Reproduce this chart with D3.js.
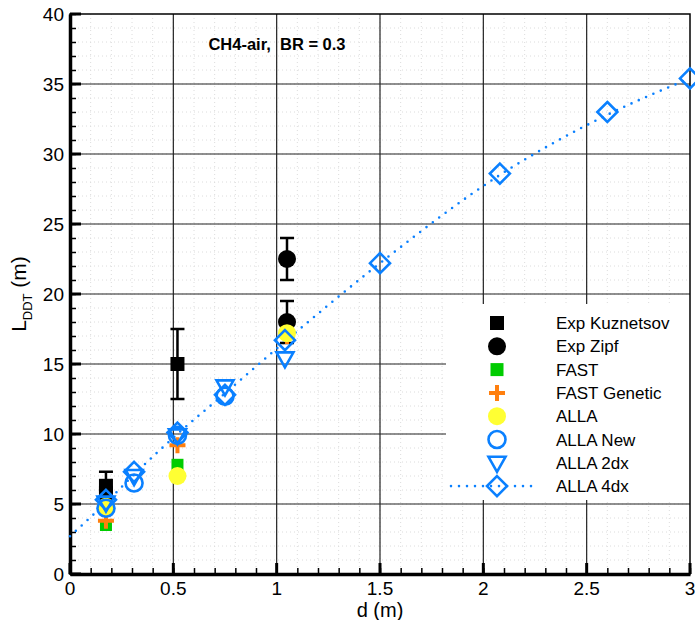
<!DOCTYPE html>
<html>
<head>
<meta charset="utf-8">
<script src="https://cdn.jsdelivr.net/npm/d3@7/dist/d3.min.js"></script>
<style>
  body { margin: 0; background: #fff; }
  svg text { font-family: "Liberation Sans", Arial, sans-serif; }
</style>
</head>
<body>
<div id="chart"></div>
<script>
// data
var xTicks = [0, 0.5, 1, 1.5, 2, 2.5, 3]
var yTicks = [0, 5, 10, 15, 20, 25, 30, 35, 40]

var expKuznetsov = [
  {d: 0.174, L: 6.3, lo: 5.3, hi: 7.3},
  {d: 0.174, L: 5.8},
  {d: 0.52, L: 15.0, lo: 12.5, hi: 17.5}
]
var expZipf = [
  {d: 1.05, L: 22.5, lo: 21.0, hi: 24.0},
  {d: 1.05, L: 18.0, lo: 16.5, hi: 19.5}
]
var fast = [ {d: 0.174, L: 3.5}, {d: 0.52, L: 7.8} ]
var fastGenetic = [ {d: 0.174, L: 3.8}, {d: 0.52, L: 9.2}, {d: 1.05, L: 17.0} ]
var alla = [ {d: 0.174, L: 4.8}, {d: 0.52, L: 7.0}, {d: 1.05, L: 17.2} ]
var allaNew = [ {d: 0.174, L: 4.7}, {d: 0.31, L: 6.5}, {d: 0.52, L: 9.9}, {d: 0.75, L: 12.7} ]
var alla2dx = [ {d: 0.174, L: 5.1}, {d: 0.31, L: 7.0}, {d: 0.52, L: 9.9}, {d: 0.75, L: 13.4}, {d: 1.04, L: 15.4} ]
var alla4dx = [ {d: 0.174, L: 5.3}, {d: 0.31, L: 7.3}, {d: 0.52, L: 10.1}, {d: 0.75, L: 12.8},
  {d: 1.04, L: 16.7}, {d: 1.5, L: 22.2}, {d: 2.08, L: 28.6}, {d: 2.6, L: 33.0}, {d: 3.0, L: 35.4} ]
// dotted curve drawn with the 4dx series (starts at the axis)
var alla4dxLine = [ {d: 0, L: 2.7}, {d: 0.174, L: 5.1}, {d: 0.31, L: 7.1}, {d: 0.52, L: 10.0},
  {d: 0.75, L: 12.9}, {d: 1.04, L: 16.6}, {d: 1.5, L: 22.2}, {d: 2.08, L: 28.5}, {d: 2.6, L: 32.8}, {d: 3.0, L: 35.4} ]

var legendNames = ["Exp Kuznetsov", "Exp Zipf", "FAST", "FAST Genetic", "ALLA", "ALLA New", "ALLA 2dx", "ALLA 4dx"]

var W = 695, H = 620
var pLeft = 70, pRight = 690, pTop = 14, pBottom = 574
var blue = "#0a80ff"

var svg = d3.select("#chart").append("svg").attr("width", W).attr("height", H)

var x = d3.scaleLinear().domain([0, 3]).range([pLeft, pRight])
var y = d3.scaleLinear().domain([0, 40]).range([pBottom, pTop])

// minor grid (dotted)
var grid = svg.append("g")
d3.range(1, 30).forEach(function(i){
  var v = i / 10
  grid.append("line").attr("x1", x(v)).attr("x2", x(v)).attr("y1", pTop).attr("y2", pBottom)
    .attr("stroke", "#dcdcdc").attr("stroke-dasharray", "1,3")
})
d3.range(1, 40).forEach(function(v){
  grid.append("line").attr("x1", pLeft).attr("x2", pRight).attr("y1", y(v)).attr("y2", y(v))
    .attr("stroke", "#dcdcdc").attr("stroke-dasharray", "1,3")
})
// major grid
xTicks.slice(1, -1).forEach(function(v){
  grid.append("line").attr("x1", x(v)).attr("x2", x(v)).attr("y1", pTop).attr("y2", pBottom)
    .attr("stroke", "#222").attr("stroke-width", 1.2)
})
yTicks.slice(1, -1).forEach(function(v){
  grid.append("line").attr("x1", pLeft).attr("x2", pRight).attr("y1", y(v)).attr("y2", y(v))
    .attr("stroke", "#222").attr("stroke-width", 1.2)
})

// legend background hides grid
svg.append("rect").attr("x", 446).attr("y", 304).attr("width", 244).attr("height", 196).attr("fill", "#fff")

// frame
svg.append("rect").attr("x", pLeft).attr("y", pTop).attr("width", pRight - pLeft).attr("height", pBottom - pTop)
  .attr("fill", "none").attr("stroke", "#000").attr("stroke-width", 1.5)

// axes with inward minor ticks
var xAxis = d3.axisBottom(x).tickValues(d3.range(0, 31).map(function(i){ return i / 10 }))
  .tickSizeInner(-6).tickSizeOuter(0).tickFormat("")
var yAxis = d3.axisLeft(y).tickValues(d3.range(0, 41)).tickSizeInner(-6).tickSizeOuter(0).tickFormat("")
var gx = svg.append("g").attr("transform", "translate(0," + pBottom + ")").call(xAxis)
var gy = svg.append("g").attr("transform", "translate(" + pLeft + ",0)").call(yAxis)
gx.selectAll(".tick line").attr("stroke-width", 1.5)
gy.selectAll(".tick line").attr("stroke-width", 1.5)
gx.select(".domain").attr("stroke-width", 3.5)
gy.select(".domain").attr("stroke-width", 3.5)
// major ticks and labels
xTicks.forEach(function(v){
  svg.append("line").attr("x1", x(v)).attr("x2", x(v)).attr("y1", pBottom).attr("y2", pBottom - 11)
    .attr("stroke", "#000").attr("stroke-width", 3)
  svg.append("text").attr("x", x(v)).attr("y", pBottom + 21).attr("text-anchor", "middle")
    .attr("font-size", 19).text(v)
})
yTicks.forEach(function(v){
  svg.append("line").attr("x1", pLeft).attr("x2", pLeft + 11).attr("y1", y(v)).attr("y2", y(v))
    .attr("stroke", "#000").attr("stroke-width", 3)
  svg.append("text").attr("x", pLeft - 6).attr("y", y(v) + 7).attr("text-anchor", "end")
    .attr("font-size", 19).text(v)
})

// axis titles
svg.append("text").attr("x", 380).attr("y", 617).attr("text-anchor", "middle").attr("font-size", 20).text("d (m)")
var yl = svg.append("text").attr("transform", "translate(26,294) rotate(-90)").attr("text-anchor", "middle").attr("font-size", 21)
yl.append("tspan").text("L")
yl.append("tspan").attr("font-size", 13).attr("dy", 6).text("DDT")
yl.append("tspan").attr("dy", -6).text(" (m)")

// annotation
svg.append("text").attr("x", 277).attr("y", 50).attr("text-anchor", "middle").attr("font-size", 16.5)
  .attr("font-weight", "bold").style("white-space", "pre").text("CH4-air,  BR = 0.3")

// marker drawers
function square(g, cx, cy, s, fill){
  g.append("rect").attr("x", cx - s/2).attr("y", cy - s/2).attr("width", s).attr("height", s).attr("fill", fill)
}
function dot(g, cx, cy, r, fill){
  g.append("circle").attr("cx", cx).attr("cy", cy).attr("r", r).attr("fill", fill)
}
function plus(g, cx, cy){
  g.append("path").attr("d", "M" + (cx - 8) + "," + cy + "H" + (cx + 8) + "M" + cx + "," + (cy - 8) + "V" + (cy + 8))
    .attr("stroke", "#ff7f0e").attr("stroke-width", 4).attr("fill", "none")
}
function ring(g, cx, cy){
  g.append("circle").attr("cx", cx).attr("cy", cy).attr("r", 8.5).attr("fill", "none")
    .attr("stroke", blue).attr("stroke-width", 2.6)
}
function tri(g, cx, cy){
  g.append("path").attr("d", "M" + (cx - 8.5) + "," + (cy - 6) + "L" + (cx + 8.5) + "," + (cy - 6) + "L" + cx + "," + (cy + 9) + "Z")
    .attr("fill", "none").attr("stroke", blue).attr("stroke-width", 2.6)
}
function diamond(g, cx, cy){
  g.append("path").attr("d", "M" + cx + "," + (cy - 10) + "L" + (cx + 10) + "," + cy + "L" + cx + "," + (cy + 10) + "L" + (cx - 10) + "," + cy + "Z")
    .attr("fill", "none").attr("stroke", blue).attr("stroke-width", 2.6)
}
function errbar(g, p){
  if (p.lo === undefined) return
  g.append("path").attr("d", "M" + x(p.d) + "," + y(p.lo) + "V" + y(p.hi) +
      "M" + (x(p.d) - 7) + "," + y(p.hi) + "H" + (x(p.d) + 7) + "M" + (x(p.d) - 7) + "," + y(p.lo) + "H" + (x(p.d) + 7))
    .attr("stroke", "#000").attr("stroke-width", 2.5).attr("fill", "none")
}

var marks = svg.append("g")

// dotted 4dx curve
var line = d3.line().x(function(d){ return x(d.d) }).y(function(d){ return y(d.L) }).curve(d3.curveMonotoneX)
marks.append("path").datum(alla4dxLine).attr("d", line).attr("fill", "none")
  .attr("stroke", blue).attr("stroke-width", 2.6).attr("stroke-dasharray", "0,8").attr("stroke-linecap", "round")

expKuznetsov.forEach(function(p){ errbar(marks, p); square(marks, x(p.d), y(p.L), 14, "#000") })
expZipf.forEach(function(p){ errbar(marks, p); dot(marks, x(p.d), y(p.L), 9, "#000") })
fast.forEach(function(p){ square(marks, x(p.d), y(p.L), 12, "#00cc00") })
fastGenetic.forEach(function(p){ plus(marks, x(p.d), y(p.L)) })
alla.forEach(function(p){ dot(marks, x(p.d), y(p.L), 9, "#ffff33") })
allaNew.forEach(function(p){ ring(marks, x(p.d), y(p.L)) })
alla2dx.forEach(function(p){ tri(marks, x(p.d), y(p.L)) })
alla4dx.forEach(function(p){ diamond(marks, x(p.d), y(p.L)) })

// legend
var lg = svg.append("g")
var lx = 497, ly0 = 323, ldy = 23.3
var drawers = [
  function(cx, cy){ square(lg, cx, cy, 14, "#000") },
  function(cx, cy){ dot(lg, cx, cy, 9, "#000") },
  function(cx, cy){ square(lg, cx, cy, 13, "#00cc00") },
  function(cx, cy){ plus(lg, cx, cy) },
  function(cx, cy){ dot(lg, cx, cy, 9, "#ffff33") },
  function(cx, cy){ ring(lg, cx, cy) },
  function(cx, cy){ tri(lg, cx, cy) },
  function(cx, cy){
    lg.append("line").attr("x1", 451).attr("x2", 535).attr("y1", cy).attr("y2", cy)
      .attr("stroke", blue).attr("stroke-width", 2.6).attr("stroke-dasharray", "0,8").attr("stroke-linecap", "round")
    diamond(lg, cx, cy)
  }
]
legendNames.forEach(function(name, i){
  var cy = ly0 + i * ldy
  drawers[i](lx, cy)
  lg.append("text").attr("x", 556).attr("y", cy + 6).attr("font-size", 17).text(name)
})
</script>
</body>
</html>
